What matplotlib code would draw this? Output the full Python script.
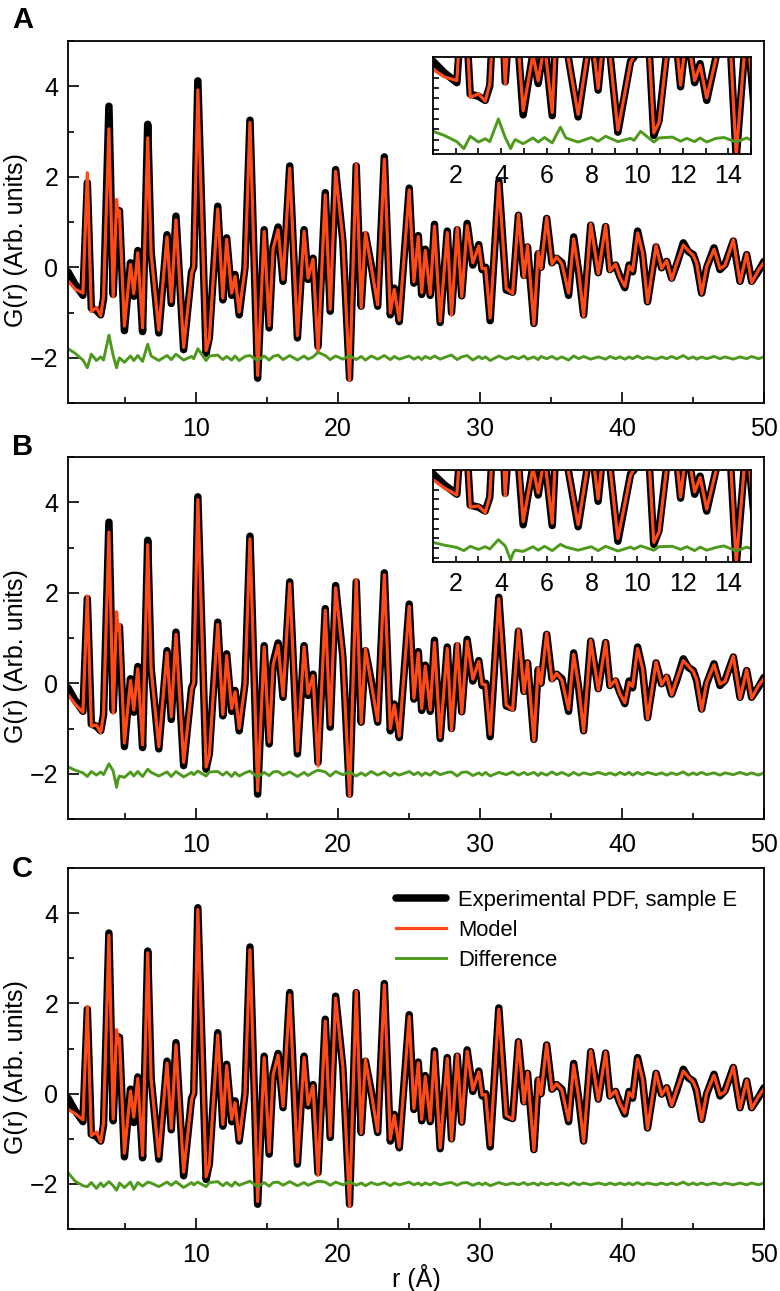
import numpy as np
import matplotlib
matplotlib.use("Agg")
import matplotlib.pyplot as plt
from matplotlib.ticker import MultipleLocator

plt.rcParams['font.family'] = ['Liberation Sans', 'DejaVu Sans']

# r positions (Å) and experimental G(r)
r = np.array([
    1.00, 1.50, 2.05, 2.36, 2.64, 3.00, 3.30, 3.50, 3.88, 4.18,
    4.42, 4.53, 4.62, 4.97, 5.40, 5.63, 5.91, 6.25, 6.61, 6.85,
    7.39, 7.97, 8.27, 8.60, 9.14, 9.70, 9.85, 10.14, 10.72, 10.95,
    11.54, 11.90, 12.17, 12.52, 12.76, 13.05, 13.46, 13.81, 14.35, 14.81,
    15.16, 15.44, 15.79, 16.14, 16.61, 17.15, 17.62, 17.90, 18.25, 18.60,
    19.11, 19.46, 19.84, 20.35, 20.82, 21.29, 21.64, 21.94, 22.34, 22.80,
    23.27, 23.69, 23.97, 24.32, 25.02, 25.35, 25.66, 25.90, 26.15, 26.50,
    26.80, 27.20, 27.70, 28.00, 28.40, 28.72, 29.10, 29.50, 29.92, 30.15,
    30.40, 30.72, 31.33, 31.85, 32.30, 32.71, 33.10, 33.35, 33.80, 34.10,
    34.30, 34.70, 35.07, 35.40, 35.77, 36.24, 36.60, 36.95, 37.30, 37.80,
    38.33, 38.85, 39.15, 39.55, 39.85, 40.20, 40.50, 40.75, 41.10, 41.45,
    41.80, 42.40, 42.79, 43.15, 43.50, 43.85, 44.32, 44.67, 45.02, 45.26,
    45.61, 45.96, 46.48, 46.90, 47.25, 47.84, 48.31, 48.78, 49.13, 49.60,
    50.00])

g_exp = np.array([
    -0.10, -0.38, -0.62, 1.87, -0.90, -0.95, -1.05, -0.70, 3.56, -0.60,
    1.28, 1.05, 1.25, -1.40, 0.10, -0.64, 0.37, -1.42, 3.16, 0.35,
    -1.45, 0.72, -0.80, 1.13, -1.82, -0.10, 0.00, 4.12, -1.90, -1.55,
    1.35, -0.72, 0.65, -0.62, -0.16, -1.05, 0.00, 3.25, -2.45, 0.83,
    -1.34, 0.45, 0.89, -0.31, 2.24, -1.56, 0.83, -0.27, 0.20, -1.75,
    1.65, -0.97, 2.16, 0.58, -2.45, 2.24, -0.86, 0.72, 0.06, -0.86,
    2.44, -1.05, -0.46, -1.20, 1.75, -0.35, 0.70, -0.60, 0.40, -0.62,
    0.95, -1.22, 0.80, -1.00, 0.83, -0.63, 0.97, 0.05, 0.50, -0.05,
    0.00, -1.18, 1.90, -0.50, -0.55, 1.15, -0.18, 0.45, -1.24, 0.30,
    0.00, 1.08, 0.10, 0.20, 0.10, -0.62, 0.67, -0.10, -1.05, 0.93,
    -0.12, 0.90, -0.05, 0.05, -0.20, -0.45, 0.05, -0.10, 0.80, 0.30,
    -0.76, 0.45, -0.01, 0.13, -0.24, 0.06, 0.54, 0.35, 0.28, 0.06,
    -0.57, -0.01, 0.43, -0.05, 0.06, 0.58, -0.31, 0.28, -0.31, -0.09,
    0.13])

# difference curves (experiment - model) for each panel
diff_a = np.array([
    0.20, 0.10, -0.05, -0.22, 0.08, -0.06, 0.02, -0.05, 0.50, 0.05,
    -0.22, -0.08, 0.00, -0.10, 0.04, -0.06, 0.05, -0.08, 0.30, 0.04,
    -0.06, 0.05, -0.04, 0.08, -0.05, 0.03, -0.02, 0.20, -0.06, 0.04,
    0.06, -0.04, 0.03, -0.05, 0.04, -0.06, 0.03, 0.05, -0.06, 0.04,
    -0.05, 0.03, 0.06, -0.04, 0.05, -0.05, 0.04, -0.03, 0.02, 0.12,
    0.05, -0.04, 0.04, -0.03, 0.05, -0.04, 0.03, -0.05, 0.04, -0.03,
    0.05, -0.04, 0.03, -0.03, 0.04, -0.03, 0.02, -0.04, 0.03, -0.02,
    0.04, -0.03, 0.03, 0.06, -0.04, 0.02, 0.05, -0.05, 0.03, -0.02,
    0.02, -0.06, 0.04, -0.03, 0.03, -0.02, 0.04, -0.03, 0.02, -0.04,
    0.03, -0.02, 0.03, -0.03, 0.02, -0.05, 0.04, -0.02, 0.03, -0.03,
    0.02, -0.03, 0.03, -0.02, 0.02, -0.03, 0.02, -0.02, 0.04, -0.02,
    0.02, -0.03, 0.02, -0.02, 0.03, -0.02, 0.05, -0.02, 0.02, -0.03,
    0.02, -0.02, 0.03, -0.02, 0.02, -0.03, 0.02, -0.02, 0.03, -0.02,
    0.02])

diff_b = np.array([
    0.15, 0.08, 0.02, -0.06, 0.05, -0.03, 0.04, -0.02, 0.22, 0.06,
    -0.30, -0.12, -0.05, -0.08, 0.04, -0.05, 0.05, -0.06, 0.10, 0.03,
    -0.05, 0.04, -0.06, 0.05, -0.07, 0.03, -0.02, 0.06, -0.05, 0.04,
    0.05, -0.03, 0.04, -0.06, 0.03, -0.05, 0.02, 0.06, -0.07, 0.03,
    -0.04, 0.04, 0.05, -0.03, 0.04, -0.06, 0.03, -0.04, 0.03, 0.08,
    0.04, -0.05, 0.05, -0.02, 0.04, -0.05, 0.02, -0.04, 0.05, -0.03,
    0.04, -0.05, 0.02, -0.03, 0.05, -0.02, 0.03, -0.04, 0.02, -0.03,
    0.05, -0.02, 0.03, 0.04, -0.05, 0.03, 0.04, -0.04, 0.02, -0.03,
    0.03, -0.05, 0.03, -0.02, 0.04, -0.03, 0.03, -0.02, 0.03, -0.04,
    0.02, -0.03, 0.04, -0.02, 0.03, -0.04, 0.03, -0.03, 0.02, -0.02,
    0.03, -0.02, 0.02, -0.03, 0.03, -0.02, 0.03, -0.03, 0.03, -0.02,
    0.03, -0.02, 0.02, -0.03, 0.02, -0.02, 0.04, -0.03, 0.02, -0.02,
    0.03, -0.02, 0.02, -0.03, 0.02, -0.02, 0.03, -0.02, 0.02, -0.03,
    0.02])

diff_c = np.array([
    0.25, 0.06, -0.04, -0.06, 0.03, -0.10, 0.02, -0.06, 0.05, -0.04,
    -0.14, -0.06, 0.02, -0.08, 0.04, -0.12, 0.03, -0.05, 0.04, 0.02,
    -0.06, 0.04, -0.03, 0.05, -0.08, 0.03, -0.02, 0.04, -0.06, 0.03,
    0.05, -0.04, 0.03, -0.05, 0.04, -0.03, 0.02, 0.06, -0.06, 0.03,
    -0.05, 0.03, 0.04, -0.03, 0.05, -0.04, 0.03, -0.03, 0.02, 0.06,
    0.04, -0.03, 0.04, -0.02, 0.05, -0.03, 0.02, -0.04, 0.03, -0.02,
    0.03, -0.04, 0.02, -0.02, 0.04, -0.02, 0.02, -0.03, 0.02, -0.02,
    0.03, -0.02, 0.02, 0.03, -0.03, 0.02, 0.03, -0.03, 0.02, -0.02,
    0.02, -0.04, 0.03, -0.02, 0.02, -0.02, 0.03, -0.02, 0.02, -0.03,
    0.02, -0.02, 0.02, -0.02, 0.02, -0.03, 0.03, -0.02, 0.02, -0.02,
    0.02, -0.02, 0.02, -0.02, 0.02, -0.02, 0.02, -0.02, 0.03, -0.02,
    0.02, -0.02, 0.02, -0.02, 0.02, -0.02, 0.04, -0.02, 0.02, -0.02,
    0.02, -0.02, 0.02, -0.02, 0.02, -0.02, 0.02, -0.02, 0.02, -0.02,
    0.02])

diff_offset = -2.0
labels = ['Experimental PDF, sample E', 'Model', 'Difference']
panel_names = ['A', 'B', 'C']

BLACK = 'black'
ORANGE = '#ff4a1a'
GREEN = '#4e9a1e'
FS = 18


def draw_curves(ax, diff):
    model = g_exp - diff
    ax.plot(r, g_exp, color=BLACK, lw=5.4, solid_joinstyle='round',
            solid_capstyle='round', label=labels[0])
    ax.plot(r, model, color=ORANGE, lw=2.3, solid_joinstyle='round',
            label=labels[1])
    ax.plot(r, diff + diff_offset, color=GREEN, lw=2.1,
            solid_joinstyle='round', label=labels[2])


def style_main(ax):
    ax.set_xlim(1, 50)
    ax.set_ylim(-3, 5)
    ax.xaxis.set_major_locator(MultipleLocator(10))
    ax.xaxis.set_minor_locator(MultipleLocator(5))
    ax.yaxis.set_major_locator(MultipleLocator(2))
    ax.yaxis.set_minor_locator(MultipleLocator(1))
    ax.tick_params(which='both', direction='in', top=False, right=False,
                   labelsize=FS, width=1.2)
    ax.tick_params(which='major', length=8)
    ax.tick_params(which='minor', length=4.5)
    ax.tick_params(axis='x', which='both', pad=10)
    ax.tick_params(axis='y', which='both', pad=7)
    for s in ax.spines.values():
        s.set_linewidth(1.3)
    ax.set_ylabel('G(r) (Arb. units)', fontsize=FS)
    ax.yaxis.set_label_coords(-0.058, 0.45)


def style_inset(ax):
    ax.set_xlim(1, 15)
    ax.set_ylim(-2.35, 0)
    ax.set_xticks(range(1, 16))
    ax.set_xticklabels([str(v) if v % 2 == 0 else '' for v in range(1, 16)])
    ax.set_yticks(np.arange(-2.25, -0.2, 0.25))
    ax.set_yticklabels([])
    ax.tick_params(direction='in', top=False, right=False, length=4,
                   width=1.2, labelsize=FS)
    ax.tick_params(axis='x', pad=7)
    for s in ax.spines.values():
        s.set_linewidth(1.3)


fig = plt.figure(figsize=(7.8, 12.91), dpi=100)

main_boxes = [[0.0872, 0.6878, 0.8923, 0.2804],
              [0.0872, 0.3656, 0.8923, 0.2804],
              [0.0872, 0.0480, 0.8923, 0.2796]]
inset_boxes = [[0.5551, 0.8807, 0.4077, 0.0751],
               [0.5551, 0.5647, 0.4077, 0.0713]]
diffs = [diff_a, diff_b, diff_c]
label_y = [1 - 28 / 1291, 1 - 455 / 1291, 1 - 877 / 1291]

for i in range(3):
    ax = fig.add_axes(main_boxes[i])
    draw_curves(ax, diffs[i])
    style_main(ax)
    fig.text(12 / 780, label_y[i], panel_names[i], fontsize=21,
             fontweight='bold', va='baseline')
    if i == 2:
        ax.set_xlabel('r (Å)', fontsize=FS)
        ax.xaxis.set_label_coords(0.5, -0.097)
        ax.legend(loc='upper right', frameon=False, fontsize=15.8,
                  handlelength=2.3, handletextpad=0.55, labelspacing=0.42,
                  bbox_to_anchor=(0.99, 0.995))
    else:
        axi = fig.add_axes(inset_boxes[i])
        draw_curves(axi, diffs[i])
        style_inset(axi)

fig.savefig('out.png', dpi=100)
